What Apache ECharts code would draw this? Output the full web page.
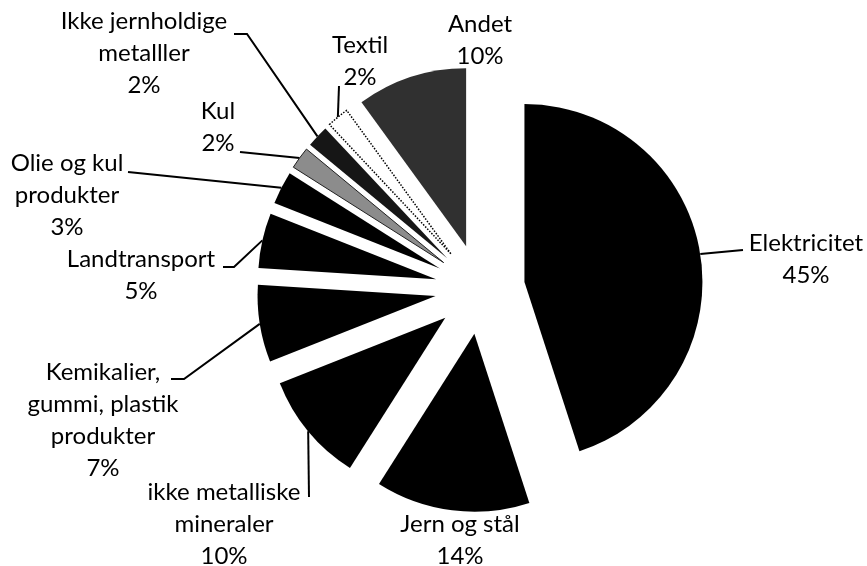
<!DOCTYPE html>
<html>
<head>
<meta charset="utf-8">
<script src="https://cdn.jsdelivr.net/npm/echarts@6/dist/echarts.min.js"></script>
<style>
  html, body { margin: 0; padding: 0; background: #fff; }
  #chart { width: 867px; height: 566px; }
</style>
</head>
<body>
<div id="chart"></div>
<script>
// categories, clockwise from 12 o'clock
const categories = [
  'Elektricitet',
  'Jern og stål',
  'ikke metalliske\nmineraler',
  'Kemikalier,\ngummi, plastik\nprodukter',
  'Landtransport',
  'Olie og kul\nprodukter',
  'Kul',
  'Ikke jernholdige\nmetalller',
  'Textil',
  'Andet'
]
// share in percent
const shares = [45, 14, 10, 7, 5, 3, 2, 2, 2, 10]

// slice fills
const fills = ['#000', '#000', '#000', '#000', '#000', '#000', '#8c8c8c', '#161616', '#fff', '#303030']

// label block centres
const labelPos = [
  [806, 259], [460, 540], [224, 524], [103, 420], [141, 275],
  [67, 195], [218, 127], [144, 53], [360, 61], [480, 40]
]
// leader line points after the slice edge (null = no line)
const leaderEnds = [
  [[743, 250]],
  null,
  [[309, 497]],
  [[184, 379], [171, 379]],
  [[234, 267], [223, 267]],
  [[128, 172]],
  [[240, 152]],
  [[247, 34], [234, 34]],
  [[339, 86]],
  null
]

const pieCenter = [480, 289]
const pieRadius = 178
const explode = 45

const chart = echarts.init(document.getElementById('chart'))

/**
 * one pie per slice so every slice can be pulled out of the centre
 */
const total = shares.reduce((a, b) => a + b, 0)
let acc = 0
const series = categories.map((cat, k) => {
  const mid = (acc + shares[k] / 2) / total * Math.PI * 2
  acc += shares[k]
  return {
    type: 'pie',
    center: [pieCenter[0] + explode * Math.sin(mid), pieCenter[1] - explode * Math.cos(mid)],
    radius: pieRadius,
    startAngle: 90,
    clockwise: true,
    silent: true,
    emphasis: { disabled: true },
    label: {
      show: false,
      position: 'outside',
      formatter: p => p.name + '\n' + p.value + '%',
      fontFamily: 'Lato',
      fontSize: 24,
      lineHeight: 32,
      color: '#000',
      align: 'center'
    },
    labelLine: {
      show: false,
      length: 10,
      length2: 10,
      lineStyle: { color: '#000', width: 2 }
    },
    labelLayout: params => {
      const i = params.dataIndex
      if (i !== k) return {}
      const ends = leaderEnds[i]
      const start = params.labelLinePoints ? params.labelLinePoints[0] : null
      const res = {
        x: labelPos[i][0],
        y: labelPos[i][1],
        align: 'center',
        verticalAlign: 'middle'
      }
      if (ends && start) {
        res.labelLinePoints = [start].concat(ends)
      }
      return res
    },
    data: categories.map((name, i) => ({
      name: name,
      value: shares[i],
      itemStyle: i === k ? {
        color: fills[i],
        borderColor: i === 8 ? '#000' : (i === 6 ? '#222' : 'transparent'),
        borderWidth: i === 8 ? 1.5 : (i === 6 ? 1 : 0),
        borderType: i === 8 ? 'dotted' : 'solid'
      } : { color: 'transparent', borderWidth: 0 },
      label: { show: i === k },
      labelLine: { show: i === k && leaderEnds[i] !== null }
    }))
  }
})

const options = {
  animation: false,
  backgroundColor: '#fff',
  series: series
}
chart.setOption(options)
</script>
</body>
</html>
